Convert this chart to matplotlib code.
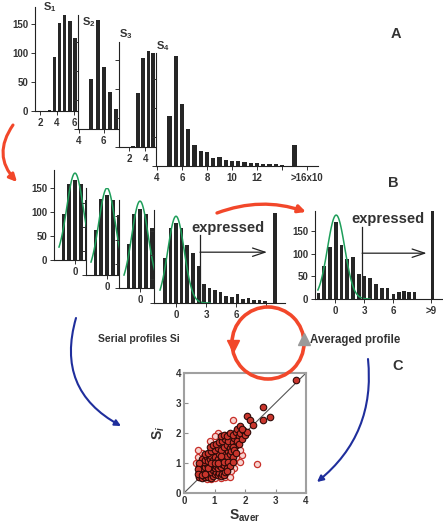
import matplotlib
matplotlib.use('Agg')
import matplotlib.pyplot as plt
from matplotlib.patches import Circle
import numpy as np

plt.rcParams['font.family'] = ['Liberation Sans', 'DejaVu Sans']
plt.rcParams['font.weight'] = 'bold'
plt.rcParams['axes.labelweight'] = 'bold'
plt.rcParams['mathtext.fontset'] = 'custom'
plt.rcParams['mathtext.rm'] = 'Liberation Sans:bold'
plt.rcParams['mathtext.it'] = 'Liberation Sans:italic:bold'
plt.rcParams['mathtext.bf'] = 'Liberation Sans:bold'
plt.rcParams['mathtext.default'] = 'bf'

# ---- panel A : serial profiles S1..S4 (counts per bin)
s1_x = [3.1, 3.7, 4.3, 4.9, 5.5, 6.1]
s1_n = [1, 93, 152, 165, 155, 125]
s2_x = [5.0, 5.5, 6.0, 6.5, 7.0]
s2_n = [86, 188, 107, 64, 34]
s3_x = [2.5, 3.13, 3.75, 4.38, 5.0]
s3_n = [1, 93, 153, 166, 162]
s4_x = [5.0, 5.5, 6.0, 6.5, 7.0, 7.5, 8.0, 8.5, 9.0, 9.5, 10.0, 10.5, 11.0,
        11.5, 12.0, 12.5, 13.0, 13.5, 14.0, 15.0]
s4_n = [87, 190, 107, 64, 36, 26, 24, 13, 16, 11, 9, 9, 7, 5, 5, 4, 4, 3, 2, 36]

# ---- panel B : normalised serial profiles and averaged profile
b_x = [-1.16, -0.58, 0.0, 0.58, 1.16]
b1_n = [96, 158, 167, 158, 125]
b2_n = [94, 158, 167, 156, 125]
b3_n = [92, 155, 165, 155, 124]
b4_x = [-1.1, -0.55, 0.0, 0.56, 1.12, 1.67, 2.23, 2.78, 3.34, 3.9, 4.45, 5.0,
        5.57, 6.13, 6.68, 7.24, 7.8, 8.35, 8.9, 9.9]
b4_n = [93, 157, 166, 157, 121, 104, 77, 40, 31, 28, 22, 15, 12, 18, 8, 10, 6, 6, 4, 188]
avg_x = [-1.75, -1.15, -0.55, 0.05, 0.65, 1.25, 1.85, 2.45, 3.05, 3.65, 4.25,
         4.85, 5.45, 6.05, 6.6, 7.15, 7.7, 8.25, 10.1]
avg_n = [13, 73, 115, 170, 119, 88, 93, 55, 51, 46, 33, 24, 24, 11, 15, 18, 15, 15, 195]

# gaussian fits (amplitude, mean, sigma)
fit_serial = (181, 0.0, 0.82)
fit_avg = (185, 0.1, 0.9)
cut_serial = 2.4
cut_avg = 2.8

# ---- panel C : S_i vs S_aver
fill_x = [0.5, 0.55, 0.6, 0.65, 0.7, 0.75, 0.8, 0.85, 0.9, 0.95,
          0.5, 0.55, 0.6, 0.65, 0.7, 0.75, 0.8, 0.85, 0.9, 0.95,
          0.5, 0.55, 0.6, 0.65, 0.7, 0.75, 0.8, 0.85, 0.9, 0.95,
          1.0, 1.05, 1.1, 1.15, 1.2, 1.25, 1.3, 1.35,
          1.0, 1.05, 1.1, 1.15, 1.2, 1.25, 1.3, 1.4,
          0.55, 0.6, 0.65, 0.7, 0.75, 0.8, 0.85, 0.9, 0.95, 1.0,
          1.05, 1.1, 1.15, 1.2, 1.25, 1.3, 1.35, 1.4, 1.45, 1.5,
          0.7, 0.8, 0.9, 1.0, 1.1, 1.2, 1.3, 1.4, 1.5, 1.55,
          0.85, 0.95, 1.05, 1.15, 1.25, 1.35, 1.45, 1.6, 1.65, 1.7,
          1.2, 1.3, 1.4, 1.5, 1.6, 1.7, 1.8, 1.75, 1.85, 1.95,
          1.55, 1.6, 1.65, 1.75, 1.8, 1.9, 2.0, 2.05,
          1.83, 1.9, 2.07, 2.18, 2.27, 2.59, 2.59, 2.81, 3.67,
          0.5, 0.45, 0.45, 0.6, 0.7, 0.8, 0.9, 1.0, 1.1, 1.2, 1.3, 1.45, 1.6, 1.7, 1.5, 1.4, 1.6]
fill_y = [0.55, 0.6, 0.5, 0.58, 0.52, 0.6, 0.55, 0.62, 0.5, 0.58,
          0.7, 0.78, 0.68, 0.75, 0.7, 0.8, 0.72, 0.78, 0.7, 0.76,
          0.88, 0.95, 0.85, 0.92, 0.88, 0.96, 0.9, 0.98, 0.88, 0.95,
          0.62, 0.7, 0.6, 0.68, 0.58, 0.65, 0.6, 0.7,
          0.82, 0.9, 0.85, 0.95, 0.88, 0.98, 0.92, 0.85,
          1.05, 1.12, 1.02, 1.1, 1.2, 1.08, 1.15, 1.25, 1.1, 1.2,
          1.05, 1.15, 1.3, 1.1, 1.2, 1.35, 1.15, 1.25, 1.4, 1.3,
          1.3, 1.35, 1.4, 1.45, 1.5, 1.42, 1.55, 1.6, 1.5, 1.65,
          1.55, 1.6, 1.65, 1.7, 1.75, 1.8, 1.75, 1.7, 1.85, 1.6,
          1.9, 1.95, 1.9, 2.0, 1.95, 2.05, 1.9, 2.15, 2.0, 2.1,
          1.4, 1.55, 1.45, 1.75, 1.65, 1.8, 1.95, 2.05,
          2.24, 2.13, 2.58, 2.42, 2.28, 2.42, 2.86, 2.52, 3.78,
          1.0, 0.8, 0.65, 0.6, 0.65, 0.82, 1.0, 1.0, 1.0, 1.25, 1.05, 1.05, 1.2, 1.35, 0.9, 0.75, 1.05]
open_x = [1.61, 2.38, 0.84, 1.1, 1.82, 1.63, 1.9, 0.45, 0.6, 0.5, 0.75, 1.0, 1.2,
          1.35, 1.45, 1.5, 1.7, 0.4, 0.45, 0.65, 1.55, 1.35, 1.0, 1.85, 0.9]
open_y = [2.42, 0.97, 1.74, 2.0, 1.03, 0.83, 1.28, 1.2, 1.35, 0.52, 0.48, 0.5, 0.5,
          0.55, 0.6, 0.55, 1.2, 1.0, 1.45, 1.25, 0.75, 1.95, 1.9, 1.45, 0.48]

W, H = 443, 527
fig = plt.figure(figsize=(W / 100, H / 100), dpi=100)

bar_c = '#262626'
green = '#1e9e5a'
red = '#f2472a'
blue = '#1f2e9c'
txt_c = '#333333'


def box(l, t, r, b):
    # axes from pixel edges (top-left origin)
    return fig.add_axes([l / W, 1 - b / H, (r - l) / W, (b - t) / H])


def style(ax, ylabels=False):
    ax.spines['top'].set_visible(False)
    ax.spines['right'].set_visible(False)
    for s in ['left', 'bottom']:
        ax.spines[s].set_linewidth(0.8)
        ax.spines[s].set_color('#222222')
    ax.tick_params(direction='out', length=3, width=0.7, labelsize=7, pad=2,
                   colors=txt_c)
    ax.set_yticks([0, 50, 100, 150])
    if not ylabels:
        ax.set_yticklabels([])


def gauss(ax, fit, lo, hi):
    a, m, s = fit
    xx = np.linspace(lo, hi, 100)
    ax.plot(xx, a * np.exp(-(xx - m) ** 2 / (2 * s * s)), color=green, lw=1.1)


# panel A
ax = box(35, 7, 80, 111)
ax.bar(s1_x, s1_n, width=0.42, color=bar_c)
ax.set_xlim(1.41, 6.7)
ax.set_ylim(0, 179)
ax.set_xticks([2, 4, 6])
style(ax, True)

ax = box(78, 15, 120, 129)
ax.bar(s2_x, s2_n, width=0.33, color=bar_c)
ax.set_xlim(3.92, 7.3)
ax.set_ylim(0, 197)
ax.set_xticks([4, 6])
style(ax)

ax = box(119, 42, 158, 147)
ax.bar(s3_x, s3_n, width=0.42, color=bar_c)
ax.set_xlim(0.75, 5.6)
ax.set_ylim(0, 181)
ax.set_xticks([2, 4])
style(ax)

ax = box(156, 53, 318, 166)
ax.bar(s4_x, s4_n, width=0.33, color=bar_c)
ax.set_xlim(3.92, 16.88)
ax.set_ylim(0, 195)
ax.set_xticks([4, 6, 8, 10, 12, 14, 16])
ax.set_xticklabels(['4', '6', '8', '10', '12', '', '>16x10'])
style(ax)

# panel B, serial profiles (each one overlaps the previous)
for (l, t, r, b, n) in [(54, 170, 88, 260, b1_n), (86, 188, 121, 275, b2_n),
                        (119, 200, 156, 288, b3_n)]:
    ax = box(l, t, r, b)
    ax.bar(b_x, n, width=0.38, color=bar_c)
    gauss(ax, fit_serial, -1.6, 3.4)
    ax.set_xlim(-2.1, (r - l) / 10 - 2.1)
    ax.set_ylim(0, (b - t) / 24 * 50)
    ax.set_xticks([0])
    style(ax, l == 54)

ax = box(154, 210, 285, 303)
ax.bar(b4_x, b4_n, width=0.36, color=bar_c)
gauss(ax, fit_serial, -1.6, 3.4)
ax.plot([cut_serial, cut_serial], [0, 142], color='#222222', lw=0.9)
ax.annotate('', xy=(9.1, 106), xytext=(cut_serial, 106),
            arrowprops=dict(arrowstyle='->,head_length=0.9,head_width=0.3',
                            color='#222222', lw=0.9, shrinkA=0, shrinkB=0))
ax.set_xlim(-2.2, 10.9)
ax.set_ylim(0, 194)
ax.set_xticks([0, 3, 6, 9])
ax.set_xticklabels(['0', '3', '6', ''])
style(ax)

# panel B, averaged profile
ax = box(315, 211, 442, 299)
ax.bar(avg_x, avg_n, width=0.38, color=bar_c)
gauss(ax, fit_avg, -1.8, 3.6)
ax.plot([cut_avg, cut_avg], [0, 158], color='#222222', lw=0.9)
ax.annotate('', xy=(9.5, 101), xytext=(cut_avg, 101),
            arrowprops=dict(arrowstyle='->,head_length=0.9,head_width=0.3',
                            color='#222222', lw=0.9, shrinkA=0, shrinkB=0))
ax.set_xlim(-2.1, 11.1)
ax.set_ylim(0, 194)
ax.set_xticks([0, 3, 6, 10])
ax.set_xticklabels(['0', '3', '6', '>9'])
style(ax, True)

# panel C scatter
ax = box(184, 373, 306, 493)
ax.plot([0, 4], [0, 4], color='#555555', lw=0.8)
ax.scatter(open_x, open_y, s=20, facecolor='#f7d4d0', edgecolor='#c8302a',
           linewidth=0.9, zorder=3)
ax.scatter(fill_x, fill_y, s=22, facecolor='#c9352c', edgecolor='#2e0a08',
           linewidth=0.8, zorder=4)
ax.set_xlim(0, 4)
ax.set_ylim(0, 4)
ax.set_xticks([0, 1, 2, 3, 4])
ax.set_yticks([0, 1, 2, 3, 4])
for s in ax.spines.values():
    s.set_color('#a0a0a0')
    s.set_linewidth(1.5)
ax.tick_params(direction='in', length=3, width=0.8, color='#909090',
               labelsize=7, labelcolor=txt_c, pad=2)
ax.set_xlabel(r'S$_{\mathbf{aver}}$', fontsize=10, labelpad=1, color=txt_c)
ax.set_ylabel(r'S$_{\mathit{i}}$', fontsize=10, labelpad=6, color=txt_c)

# overlay in pixel units: labels, arrows and the cycle
ov = fig.add_axes([0, 0, 1, 1])
ov.set_xlim(0, W)
ov.set_ylim(H, 0)
ov.axis('off')

for lab, x, y in [('S$_1$', 43, 7), ('S$_2$', 82, 22), ('S$_3$', 119, 34),
                  ('S$_4$', 156, 46)]:
    ov.text(x, y, lab, fontsize=8, ha='left', va='center', color=txt_c)
for lab, x, y in [('A', 396, 34), ('B', 393, 183), ('C', 398, 366)]:
    ov.text(x, y, lab, fontsize=10.5, ha='center', va='center', color=txt_c)

ov.text(228, 228, 'expressed', fontsize=10.5, ha='center', va='center', color=txt_c)
ov.text(388, 219, 'expressed', fontsize=10.5, ha='center', va='center', color=txt_c)
ov.text(98, 339, 'Serial profiles Si', fontsize=7.5, ha='left', va='center',
        color=txt_c)
ov.text(310, 340, 'Averaged profile', fontsize=8.3, ha='left', va='center',
        color=txt_c)


def curved(p0, p1, rad, color, lw, ms):
    ov.annotate('', xy=p1, xytext=p0,
                arrowprops=dict(arrowstyle='-|>', color=color, lw=lw,
                                connectionstyle='arc3,rad=%s' % rad,
                                mutation_scale=ms, shrinkA=0, shrinkB=0))


curved((13, 125), (17, 182), 0.4, red, 2.2, 11)
curved((217, 213), (306, 212), -0.18, red, 2.4, 11)
curved((76, 318), (121, 426), 0.4, blue, 1.5, 9)
curved((368, 359), (317, 482), -0.27, blue, 1.5, 9)

ov.add_patch(Circle((268, 343), 36, fill=False, edgecolor=red, lw=2.6))
ov.plot(233, 346, marker='v', ms=8, color=red)
ov.plot(304, 339, marker='^', ms=8, color='#9a9a9a')

fig.savefig('out.png', dpi=100, facecolor='white')
